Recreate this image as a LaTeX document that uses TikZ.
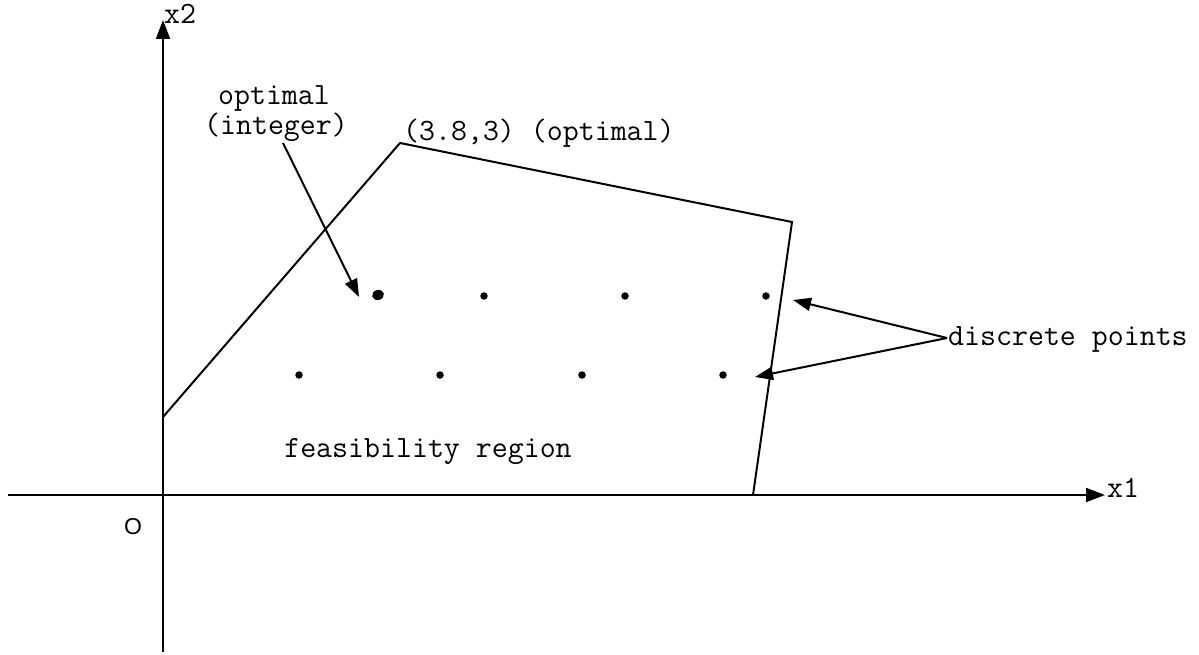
\documentclass[tikz,border=0pt]{standalone}
\usepackage{fontspec}
\newfontfamily\osans{Liberation Sans}
\usetikzlibrary{arrows.meta,shapes.geometric}
\tikzset{
  axis/.style={line width=2pt,-{Triangle[length=19pt,width=14pt]}},
  edge/.style={line width=2pt,line join=miter},
  pointer/.style={line width=2pt,-{Triangle[length=18pt,width=13pt]}},
  lbl/.style={inner sep=0pt,font=\ttfamily\fontsize{31}{33}\selectfont},
  gridpt/.style={fill=black,circle,inner sep=0pt,minimum size=7.5pt},
}
\begin{document}
\begin{tikzpicture}[x=1pt,y=-1pt]
\useasboundingbox (0,0) rectangle (1199,655);
% axes
\coordinate (xs) at (8,495);
\coordinate (xe) at (1105,495);
\coordinate (ys) at (163,652);
\coordinate (ye) at (163,20);
\draw[axis] (xs) -- (xe);
\draw[axis] (ys) -- (ye);
\node[lbl,anchor=base west] (x1) at (1107,497) {x1};
\node[lbl,anchor=base west] (x2) at (164,24) {x2};
\node[inner sep=0pt,font=\osans\fontsize{23}{25}\selectfont] (O) at (133,527) {O};
% feasibility polygon
\coordinate (pA) at (163,417);
\coordinate (pB) at (400,143);
\coordinate (pC) at (792,222);
\coordinate (pD) at (753,495);
\draw[edge] (pA) -- (pB) -- (pC) -- (pD);
% points
\node[gridpt] (r1a) at (484,296) {};
\node[gridpt] (r1b) at (625,296) {};
\node[gridpt] (r1c) at (766,296) {};
\node[gridpt] (r2a) at (299,375) {};
\node[gridpt] (r2b) at (440,375) {};
\node[gridpt] (r2c) at (582,375) {};
\node[gridpt] (r2d) at (723,375) {};
\node[fill=black,ellipse,inner sep=0pt,minimum width=12pt,minimum height=10pt,rotate=15] (opt) at (378,295) {};
% labels
\node[lbl,anchor=base] (optl) at (274,105) {optimal};
\node[lbl,anchor=base] (intl) at (276,135) {(integer)};
\node[lbl,anchor=base west] (vert) at (403,141) {(3.8,3) (optimal)};
\node[lbl,anchor=base] (feas) at (428,457) {feasibility region};
\node[lbl,anchor=base west] (disc) at (948,345) {discrete points};
% pointers
\coordinate (ia) at (283,143);
\coordinate (ib) at (359,297);
\draw[pointer] (ia) -- (ib);
\coordinate (ds) at (947,338);
\coordinate (d1) at (793,300);
\coordinate (d2) at (755,377);
\draw[pointer] (ds) -- (d1);
\draw[pointer] (ds) -- (d2);
\end{tikzpicture}
\end{document}
